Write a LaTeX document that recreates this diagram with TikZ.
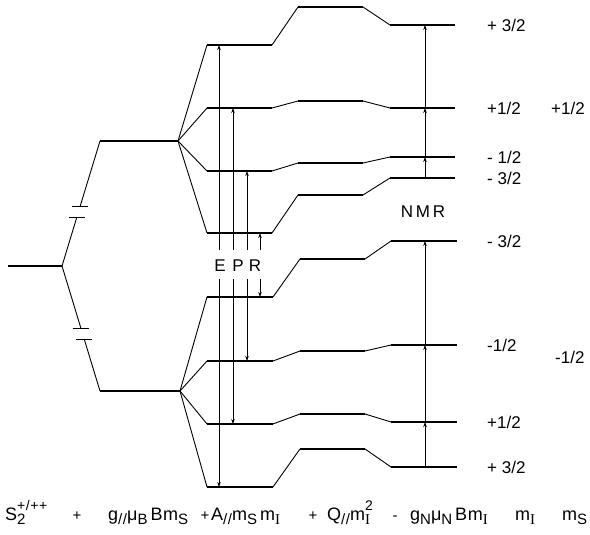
\documentclass[tikz,border=0pt]{standalone}
\usepackage{fontspec}
\setmainfont{Liberation Sans}
\newfontfamily\serifI{Liberation Serif}
\newfontfamily\frmfont[LetterSpace=4]{Liberation Sans}
\usetikzlibrary{arrows.meta, calc}

\newcommand{\lo}[1]{\raisebox{-0.45ex}{\fontsize{15}{15}\selectfont #1}}
\newcommand{\hi}[1]{\raisebox{0.95ex}{\fontsize{14}{14}\selectfont #1}}
\newcommand{\Ilo}{\lo{\serifI I}}

\begin{document}
\begin{tikzpicture}[x=1pt, y=-1pt,
    level/.style={line width=2.3pt},
    link/.style={line width=0.9pt},
    tick/.style={line width=0.9pt},
    trans/.style={line width=0.6pt, -{Stealth[length=5pt, width=3.5pt]}},
    lab/.style={anchor=west, font=\fontsize{17}{20}\selectfont, inner sep=0pt},
    frm/.style={anchor=base west, font=\frmfont\fontsize{18}{22}\selectfont, inner sep=0pt},
    op/.style={anchor=base, font=\fontsize{15}{18}\selectfont, inner sep=0pt}]
  \useasboundingbox (0,0) rectangle (590,535);

  % zero-field level and the two electron spin levels
  \coordinate (z0) at (8,266);
  \coordinate (z1) at (62,266);
  \coordinate (u0) at (100,141);
  \coordinate (u1) at (178,141);
  \coordinate (d0) at (100,391);
  \coordinate (d1) at (180,391);
  \draw[level] (z0) -- (z1);
  \draw[level] (u0) -- (u1);
  \draw[level] (d0) -- (d1);

  % broken connectors
  \coordinate (ub1) at ($(z1)!0.39!(u0)$);
  \coordinate (ub2) at ($(z1)!0.48!(u0)$);
  \coordinate (db1) at ($(z1)!0.50!(d0)$);
  \coordinate (db2) at ($(z1)!0.59!(d0)$);
  \draw[link] (z1) -- (ub1) (ub2) -- (u0);
  \draw[link] (z1) -- (db1) (db2) -- (d0);
  \foreach \b in {ub1, ub2, db1, db2}
    \draw[tick] ([xshift=-8pt]\b) -- ([xshift=8pt]\b);

  % hyperfine, quadrupole and nuclear Zeeman levels
  \foreach \n/\ya/\yb/\yc in {a/45/7/25, b/108/101/108, c/171/163/157, e/233/195/178} {
    \coordinate (\n0) at (207,\ya); \coordinate (\n1) at (272,\ya);
    \coordinate (\n2) at (298,\yb); \coordinate (\n3) at (363,\yb);
    \coordinate (\n4) at (390,\yc); \coordinate (\n5) at (455,\yc);
    \draw[link] (u1) -- (\n0) (\n1) -- (\n2) (\n3) -- (\n4);
    \draw[level] (\n0) -- (\n1) (\n2) -- (\n3) (\n4) -- (\n5);
  }
  \foreach \n/\ya/\yb/\yc in {f/297/259/241, g/361/351/345, h/424/414/422, k/487/449/467} {
    \coordinate (\n0) at (207,\ya); \coordinate (\n1) at (273,\ya);
    \coordinate (\n2) at (300,\yb); \coordinate (\n3) at (365,\yb);
    \coordinate (\n4) at (391,\yc); \coordinate (\n5) at (457,\yc);
    \draw[link] (d1) -- (\n0) (\n1) -- (\n2) (\n3) -- (\n4);
    \draw[level] (\n0) -- (\n1) (\n2) -- (\n3) (\n4) -- (\n5);
  }

  % EPR transitions
  \node[lab, anchor=center] (E) at (220,266) {E};
  \node[lab, anchor=center] (P) at (238,266) {P};
  \node[lab, anchor=center] (R) at (255,266) {R};
  \foreach \x/\up/\dn [count=\i] in {219/a/k, 233/b/h, 247/c/g, 260/e/f} {
    \coordinate (s\i) at (\x,250);
    \coordinate (t\i) at (\x,279);
    \draw[trans] (s\i) -- (s\i |- \up0);
    \draw[trans] (t\i) -- (t\i |- \dn0);
  }

  % NMR transitions
  \coordinate (nmr) at (425,0);
  \foreach \p/\q in {e/c, c/b, b/a, k/h, h/g, g/f}
    \draw[trans] (nmr |- \p4) -- (nmr |- \q4);
  \node[lab, anchor=center] (NMR) at (423,212) {N\,M\,R};

  % nuclear spin labels
  \node[lab] (ma) at ([xshift=32pt]a5) {+ 3/2};
  \node[lab] (mb) at ([xshift=32pt]b5) {+1/2};
  \node[lab] (mc) at ([xshift=32pt]c5) {- 1/2};
  \node[lab] (me) at ([xshift=32pt]e5) {- 3/2};
  \node[lab] (mf) at ([xshift=30pt]f5) {- 3/2};
  \node[lab] (mg) at ([xshift=30pt]g5) {-1/2};
  \node[lab] (mh) at ([xshift=30pt]h5) {+1/2};
  \node[lab] (mk) at ([xshift=30pt]k5) {+ 3/2};
  % electron spin labels
  \node[lab] (su) at (551,108) {+1/2};
  \node[lab] (sd) at (555,357) {-1/2};

  % spin Hamiltonian
  \node[frm] (h1) at (5,520) {S\rlap{\lo{2}}\hi{+/++}};
  \node[op] (h2) at (77,520) {+};
  \node[frm] (h3) at (108,520) {g\lo{//}μ\lo{B}\,Bm\lo{S}};
  \node[op] (h4) at (205,520) {+};
  \node[frm] (h5) at (211,520) {A\lo{//}m\lo{S}\,m\Ilo};
  \node[op] (h6) at (313,520) {+};
  \node[frm] (h7) at (327,520) {Q\lo{//}m\rlap{\Ilo}\hi{2}};
  \node[op] (h8) at (395,520) {-};
  \node[frm] (h9) at (410,520) {g\lo{N}μ\lo{N}\,Bm\Ilo};
  \node[frm] (h10) at (515,520) {m\Ilo};
  \node[frm] (h11) at (562,520) {m\lo{S}};
\end{tikzpicture}
\end{document}
